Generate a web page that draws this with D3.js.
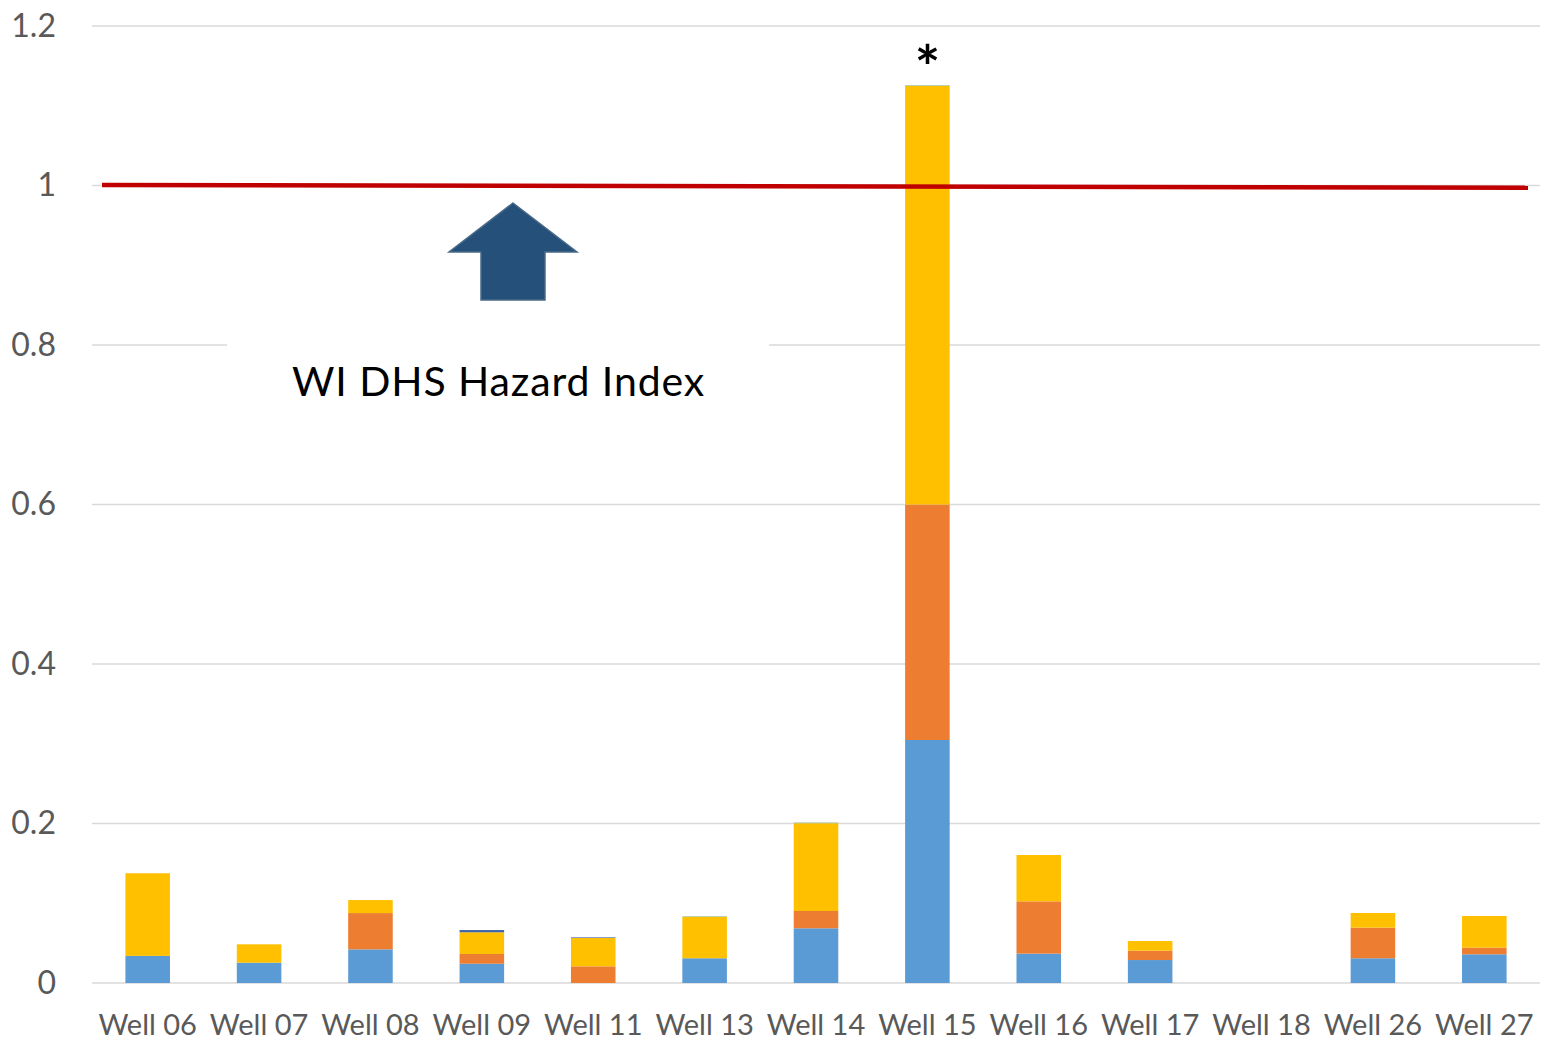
<!DOCTYPE html>
<html>
<head>
<meta charset="utf-8">
<script src="https://cdn.jsdelivr.net/npm/d3@7"></script>
<style>
  html, body { margin: 0; padding: 0; background: #ffffff; }
  svg { display: block; }
</style>
</head>
<body>
<svg id="chart" width="1542" height="1047"></svg>
<script>
// ---- Data ----
const categories = ["Well 06","Well 07","Well 08","Well 09","Well 11","Well 13","Well 14","Well 15","Well 16","Well 17","Well 18","Well 26","Well 27"];
const blueVals   = [0.034, 0.0255, 0.0422, 0.0242, 0,      0.031,  0.0686, 0.3047, 0.0368, 0.0288, 0, 0.031,  0.036];
const orangeVals = [0,     0,      0.0455, 0.0122, 0.0209, 0,      0.0217, 0.2953, 0.0656, 0.0117, 0, 0.0384, 0.0083];
const goldVals   = [0.1036,0.023,  0.0163, 0.0272, 0.0355, 0.0518, 0.110,  0.5248, 0.0581, 0.0122, 0, 0.0184, 0.0397];
const darkBlueVals = [0,   0,      0,      0.0028, 0.0008, 0,      0,      0,      0,      0,      0, 0,      0];
const greenVals  = [0,     0,      0,      0,      0,      0.0008, 0.0009, 0.0009, 0,      0,      0, 0,      0];
const seriesKeys = ["blue","orange","gold","darkBlue","green"];
const seriesColors = ["#5B9BD5","#ED7D31","#FFC000","#3F66A8","#9DB889"];
const yTicks = [0, 0.2, 0.4, 0.6, 0.8, 1, 1.2];
const yTickLabels = ["0","0.2","0.4","0.6","0.8","1","1.2"];
const hazardLine = [1.0006, 0.9972];   // hand-drawn line, left and right end values
const hazardLabel = "WI DHS Hazard Index";
const markedWell = "Well 15";
const markText = "*";

(function () {
// ---- Build table ----
const table = categories.map((c, i) => ({
  cat: c, blue: blueVals[i], orange: orangeVals[i], gold: goldVals[i],
  darkBlue: darkBlueVals[i], green: greenVals[i]
}));
const stacked = d3.stack().keys(seriesKeys)(table);

const svg = d3.select("#chart");
const pLeft = 92, pRight = 1540, pTop = 26, pBottom = 983;

const x = d3.scaleBand().domain(categories).range([pLeft, pRight]).paddingInner(0.6).paddingOuter(0.3);
const y = d3.scaleLinear().domain([0, 1.2]).range([pBottom, pTop]);

const font = "Lato, 'Open Sans', sans-serif";

// gridlines
svg.append("g").selectAll("line").data(yTicks).join("line")
  .attr("x1", pLeft).attr("x2", pRight)
  .attr("y1", d => y(d)).attr("y2", d => y(d))
  .attr("stroke", "#d9d9d9").attr("stroke-width", 1.5);

// y axis labels
const yAxis = d3.axisLeft(y).tickValues(yTicks).tickSize(0).tickPadding(0)
  .tickFormat((d, i) => yTickLabels[i]);
const gy = svg.append("g").attr("transform", "translate(56,0)").call(yAxis);
gy.select(".domain").remove();
gy.selectAll("text").attr("font-family", font).attr("font-size", 32).attr("fill", "#595959");

// x axis labels
const xAxis = d3.axisBottom(x).tickSize(0).tickPadding(0);
const gx = svg.append("g").attr("transform", `translate(0,${pBottom + 31})`).call(xAxis);
gx.select(".domain").remove();
gx.selectAll("text").attr("font-family", font).attr("font-size", 29).attr("fill", "#595959")
  .attr("dy", "0.71em");

// bars
svg.append("g").selectAll("g").data(stacked).join("g")
  .attr("fill", (d, i) => seriesColors[i])
  .selectAll("rect").data(d => d).join("rect")
  .attr("x", d => x(d.data.cat))
  .attr("width", x.bandwidth())
  .attr("y", d => y(d[1]))
  .attr("height", d => Math.max(0, y(d[0]) - y(d[1])));

// text box (white background covering gridline)
svg.append("rect").attr("x", 227).attr("y", 318).attr("width", 542).attr("height", 100).attr("fill", "#ffffff");
svg.append("text").attr("x", 292).attr("y", 396)
  .attr("font-family", font).attr("font-size", 41).attr("letter-spacing", 0.9).attr("fill", "#000000")
  .text(hazardLabel);

// hazard line
svg.append("line")
  .attr("x1", 102).attr("x2", 1528)
  .attr("y1", y(hazardLine[0])).attr("y2", y(hazardLine[1]))
  .attr("stroke", "#C00000").attr("stroke-width", 4.5);

// arrow
const ax = 513, aTop = 203;
svg.append("path")
  .attr("d", `M${ax},${aTop} L${ax + 64},${aTop + 49} L${ax + 32},${aTop + 49} L${ax + 32},${aTop + 97} L${ax - 32},${aTop + 97} L${ax - 32},${aTop + 49} L${ax - 64},${aTop + 49} Z`)
  .attr("fill", "#245079").attr("stroke", "#4a6a88").attr("stroke-width", 1.5);

// asterisk on marked well
const mi = categories.indexOf(markedWell);
const total = blueVals[mi] + orangeVals[mi] + goldVals[mi] + darkBlueVals[mi] + greenVals[mi];
svg.append("text")
  .attr("x", x(markedWell) + x.bandwidth() / 2)
  .attr("y", y(total) + 4)
  .attr("text-anchor", "middle")
  .attr("font-family", font).attr("font-weight", "bold").attr("font-size", 60).attr("fill", "#000000")
  .text(markText);
})();
</script>
</body>
</html>
